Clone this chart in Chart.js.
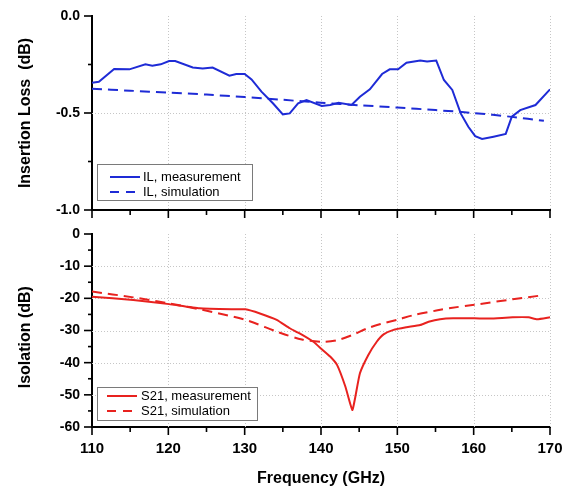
<!DOCTYPE html>
<html><head><meta charset="utf-8">
<script src="https://cdn.jsdelivr.net/npm/chart.js@4.4.1/dist/chart.umd.min.js"></script>
<style>
html,body{margin:0;padding:0;background:#fff;}
#wrap{position:relative;width:574px;height:489px;overflow:hidden;background:#fff;}
canvas{position:absolute;left:0;}
#c1{top:0;} #c2{top:222px;}
</style></head><body>
<div id="wrap"><canvas id="c1" width="574" height="222"></canvas><canvas id="c2" width="574" height="267"></canvas></div>
<script>
const FONT = "'Liberation Sans', Arial, sans-serif";
const BLUE = '#1e2bd6';
const RED = '#e8221f';

// x axis
const xMajor = [110,120,130,140,150,160,170];
const xMinor = [115,125,135,145,155,165];
const xGrid = [120,130,140,150,160,170];

// top panel: insertion loss
const ilMeasFreq = [110,110.9,112.9,114.9,117.0,117.9,119.0,120.1,120.9,123.2,124.5,125.8,128.0,128.9,130.0,130.9,132.2,133.7,135.0,135.9,137.0,138.1,140.1,141.2,142.3,144.0,145.1,146.4,148.0,149.0,150.1,151.2,153.0,153.9,155.1,156.1,157.2,158.3,159.3,160.2,161.1,162.6,164.2,165.0,166.1,168.1,170.0];
const ilMeasVal = [-0.344,-0.339,-0.273,-0.275,-0.249,-0.256,-0.249,-0.232,-0.232,-0.265,-0.27,-0.266,-0.308,-0.299,-0.299,-0.327,-0.39,-0.45,-0.507,-0.502,-0.45,-0.433,-0.464,-0.459,-0.447,-0.459,-0.416,-0.378,-0.299,-0.275,-0.275,-0.241,-0.23,-0.235,-0.23,-0.33,-0.381,-0.502,-0.571,-0.619,-0.634,-0.622,-0.608,-0.519,-0.485,-0.459,-0.378];
const ilSimFreq = [110,115,120,125,130,135,140,145,150,155,160,165,169.2];
const ilSimVal = [-0.375,-0.385,-0.395,-0.405,-0.418,-0.432,-0.447,-0.46,-0.472,-0.485,-0.50,-0.52,-0.54];
const ilMajor = [-1,-0.5,0];
const ilMinor = [-0.75,-0.25];
const ilGrid = [-0.5];

// bottom panel: isolation
const s21MeasFreq = [110,115.4,120.1,124.1,128.5,130.1,132.0,134.2,135.9,137.2,139.0,140.1,141.2,142.1,143.2,144.1,144.5,145.1,146.2,147.3,148.2,149.5,151.2,153.0,154.1,155.6,157.3,160.1,162.1,165.1,167.2,168.3,170];
const s21MeasVal = [-19.5,-20.5,-21.8,-23.1,-23.4,-23.4,-24.7,-26.7,-29.3,-30.9,-33.5,-35.8,-38.1,-40.7,-47.5,-54.7,-50.6,-43.3,-37.6,-33.5,-31.2,-29.8,-29.0,-28.3,-27.3,-26.5,-26.2,-26.2,-26.3,-25.9,-25.9,-26.5,-25.9];
const s21SimFreq = [110,115.4,120.1,124.1,130.1,134.4,137.5,140.1,142.1,144.1,146.1,147.8,150.1,152,155.1,157,160.1,165.1,169.2];
const s21SimVal = [-17.9,-19.7,-21.6,-23.4,-26.7,-30.5,-32.8,-33.5,-33.0,-31.4,-29.3,-28.0,-26.6,-25.3,-23.8,-23.0,-22.0,-20.3,-19.0];
const isoMajor = [-60,-50,-40,-30,-20,-10,0];
const isoMinor = [-55,-45,-35,-25,-15,-5];
const isoGrid = [-50,-40,-30,-20,-10];

const pts = (xs, ys) => xs.map((x,i)=>({x, y: ys[i]}));

const decor = {
  id:'decor',
  beforeDatasetsDraw(chart, args, o){
    const {ctx, chartArea:a, scales:{x,y}} = chart;
    ctx.save();
    ctx.strokeStyle='#c6c6c6'; ctx.lineWidth=1; ctx.setLineDash([1,2]);
    o.xGrid.forEach(v=>{const p=Math.round(x.getPixelForValue(v))+0.5; ctx.beginPath(); ctx.moveTo(p,a.top); ctx.lineTo(p,a.bottom); ctx.stroke();});
    o.yGrid.forEach(v=>{const p=Math.round(y.getPixelForValue(v))+0.5; ctx.beginPath(); ctx.moveTo(a.left,p); ctx.lineTo(a.right,p); ctx.stroke();});
    ctx.restore();
  },
  afterDatasetsDraw(chart, args, o){
    const {ctx, chartArea:a, scales:{x,y}} = chart;
    ctx.save();
    ctx.strokeStyle='#000'; ctx.lineWidth=1.6; ctx.setLineDash([]);
    const seg=(x0,y0,x1,y1)=>{ctx.beginPath();ctx.moveTo(x0,y0);ctx.lineTo(x1,y1);ctx.stroke();};
    o.xMajor.forEach(v=>{const p=x.getPixelForValue(v); seg(p,a.bottom,p,a.bottom+8);});
    o.xMinor.forEach(v=>{const p=x.getPixelForValue(v); seg(p,a.bottom,p,a.bottom+5);});
    o.yMajor.forEach(v=>{const p=y.getPixelForValue(v); seg(a.left-8,p,a.left,p);});
    o.yMinor.forEach(v=>{const p=y.getPixelForValue(v); seg(a.left-4,p,a.left,p);});
    // legend
    const L = o.legend;
    const bx = a.left+L.dx, by = a.bottom-L.dy;
    ctx.fillStyle='#fff';
    ctx.fillRect(bx,by,L.w,L.h);
    ctx.strokeStyle='#7a7a7a'; ctx.lineWidth=1;
    ctx.strokeRect(Math.round(bx)+0.5,Math.round(by)+0.5,L.w,L.h);
    chart.data.datasets.forEach((ds,i)=>{
      const ry = a.bottom - L.rows[i];
      ctx.strokeStyle = ds.borderColor; ctx.lineWidth = 2;
      ctx.setLineDash(ds.borderDash ? [9,7] : []);
      seg(a.left+L.l0, ry, a.left+L.l1, ry);
      ctx.setLineDash([]);
      ctx.fillStyle='#000'; ctx.font = '13px '+FONT; ctx.textBaseline='middle'; ctx.textAlign='left';
      ctx.fillText(ds.label, a.left+L.tx, ry+0.5);
    });
    ctx.restore();
  }
};

const tickFont = {family:FONT, size:14, weight:'bold'};
const titleFont = {family:FONT, size:16, weight:'bold'};
const hiddenTicks = {drawOnChartArea:false, drawTicks:true, tickLength:9, tickColor:'rgba(0,0,0,0)'};

function yScale(min,max,step,fmt,title,pad){
  return {type:'linear', min, max,
    ticks:{stepSize:step, callback:fmt, font:tickFont, color:'#000', padding:3},
    grid:hiddenTicks,
    border:{color:'#000', width:2},
    title:{display:true, text:title, font:titleFont, color:'#000', padding:{top:pad,bottom:0}},
    afterFit(s){s.width=92;}
  };
}

new Chart(document.getElementById('c1'), {
  type:'line',
  data:{datasets:[
    {label:'IL, measurement', data:pts(ilMeasFreq, ilMeasVal), borderColor:BLUE, borderWidth:2, pointRadius:0, tension:0, fill:false},
    {label:'IL, simulation', data:pts(ilSimFreq, ilSimVal), borderColor:BLUE, borderWidth:2, borderDash:[10,6], pointRadius:0, tension:0.3, fill:false}
  ]},
  options:{
    responsive:false, animation:false, devicePixelRatio:1,
    layout:{padding:{top:16,right:24,left:0,bottom:0}},
    plugins:{legend:{display:false}, tooltip:{enabled:false},
      decor:{xMajor, xMinor, xGrid, yMajor:ilMajor, yMinor:ilMinor, yGrid:ilGrid,
        legend:{dx:5, dy:46, w:155, h:36, rows:[33,18], l0:18, l1:48, tx:51}}},
    scales:{
      x:{type:'linear', min:110, max:170, ticks:{stepSize:10, display:false},
        grid:{drawOnChartArea:false, drawTicks:false}, border:{color:'#000', width:2},
        afterFit(s){s.height=12;}},
      y:yScale(-1,0,0.5,v=>v.toFixed(1),'Insertion Loss  (dB)',16)
    }
  },
  plugins:[decor]
});

new Chart(document.getElementById('c2'), {
  type:'line',
  data:{datasets:[
    {label:'S21, measurement', data:pts(s21MeasFreq, s21MeasVal), borderColor:RED, borderWidth:2, pointRadius:0, tension:0.15, fill:false},
    {label:'S21, simulation', data:pts(s21SimFreq, s21SimVal), borderColor:RED, borderWidth:2, borderDash:[10,6], pointRadius:0, tension:0.3, fill:false}
  ]},
  options:{
    responsive:false, animation:false, devicePixelRatio:1,
    layout:{padding:{top:12,right:24,left:0,bottom:0}},
    plugins:{legend:{display:false}, tooltip:{enabled:false},
      decor:{xMajor, xMinor, xGrid, yMajor:isoMajor, yMinor:isoMinor, yGrid:isoGrid,
        legend:{dx:5, dy:40, w:160, h:33, rows:[31,16], l0:15, l1:45, tx:49}}},
    scales:{
      x:{type:'linear', min:110, max:170,
        ticks:{stepSize:10, font:{family:FONT,size:15,weight:'bold'}, color:'#000', padding:5, maxRotation:0},
        grid:{drawOnChartArea:false, drawTicks:true, tickLength:8, tickColor:'rgba(0,0,0,0)'}, border:{color:'#000', width:2},
        title:{display:true, text:'Frequency (GHz)', font:titleFont, color:'#000', padding:{top:0,bottom:1}},
        afterFit(s){s.height=62;}},
      y:yScale(-60,0,10,v=>String(v),'Isolation (dB)   ',16)
    }
  },
  plugins:[decor]
});
</script>
</body></html>
